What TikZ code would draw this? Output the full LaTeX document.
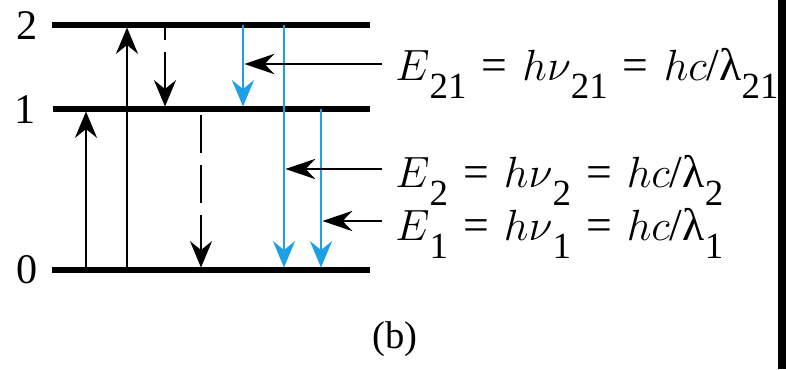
\documentclass[tikz,border=0pt]{standalone}
\usepackage{fontspec}
\setmainfont{Liberation Serif}
\usetikzlibrary{arrows.meta}
\definecolor{emitblue}{RGB}{30,160,230}
\newcommand{\lowsub}[1]{\raisebox{-0.4em}{\fontsize{21}{21}\selectfont #1}}
\newcommand{\eqgap}{\hspace{0.33em}=\hspace{0.33em}}

\begin{document}
\begin{tikzpicture}[x=0.02cm, y=-0.02cm,
    level/.style={line width=2.9pt},
    jump/.style={line width=1.6pt, shorten >=1.4pt, -{Stealth[length=15pt, width=12.5pt, inset=5pt]}},
    emit/.style={jump, draw=emitblue, line width=1.6pt},
    relax/.style={jump, dash pattern=on 21.6pt off 6.8pt},
    pointer/.style={line width=1.5pt, shorten >=0.8pt, -{Stealth[length=17pt, width=11.5pt, inset=5.5pt]}},
    levellabel/.style={font=\fontsize{24}{24}\selectfont, anchor=east, inner sep=0pt},
    relation/.style={font=\fontsize{26}{30}\selectfont, anchor=base west, inner sep=0pt}
]
\useasboundingbox (0,0) rectangle (786,369);
\fill (778,0) rectangle (786,369);

% levels
\coordinate (L2w) at (52,25);  \coordinate (L2e) at (370,25);
\coordinate (L1w) at (53,109); \coordinate (L1e) at (370,109);
\coordinate (L0w) at (52,270); \coordinate (L0e) at (370,270);
\draw[level] (L2w) -- (L2e);
\draw[level] (L1w) -- (L1e);
\draw[level] (L0w) -- (L0e);
\node[levellabel] (n2) at (38,26) {2};
\node[levellabel] (n1) at (36,110) {1};
\node[levellabel] (n0) at (38,270) {0};

% columns
\coordinate (up1) at (86,0);
\coordinate (up2) at (127,0);
\coordinate (dn21) at (165,0);
\coordinate (dn10) at (201,0);
\coordinate (b21) at (243,0);
\coordinate (b2) at (284,0);
\coordinate (b1) at (321,0);

% absorption
\draw[jump] (L0w -| up1) -- (L1w -| up1);
\draw[jump] (L0w -| up2) -- (L2w -| up2);
% non-radiative
\draw[relax, dash phase=13.1pt] (L2w -| dn21) -- (L1w -| dn21);
\draw[relax, dash phase=25pt] (L1w -| dn10) -- (L0w -| dn10);
% emission
\draw[emit] (L2w -| b21) -- (L1w -| b21);
\draw[emit] (L2w -| b2) -- (L0w -| b2);
\draw[emit] (L1w -| b1) -- (L0w -| b1);

% relations
\node[relation] (eq21) at (395,80) {$E$\lowsub{21}\eqgap$h\nu$\lowsub{21}\eqgap$hc$/λ\lowsub{21}};
\node[relation] (eq2) at (395,187) {$E$\lowsub{2}\eqgap$h\nu$\lowsub{2}\eqgap$hc$/λ\lowsub{2}};
\node[relation] (eq1) at (395,240) {$E$\lowsub{1}\eqgap$h\nu$\lowsub{1}\eqgap$hc$/λ\lowsub{1}};
\coordinate (t21) at (382,64);
\coordinate (t2) at (382,169);
\coordinate (t1) at (382,221);
\draw[pointer] (t21) -- (t21 -| b21);
\draw[pointer] (t2) -- (t2 -| b2);
\draw[pointer] (t1) -- (t1 -| b1);

\node[font=\fontsize{22}{22}\selectfont] (cap) at (395,339) {(b)};
\end{tikzpicture}
\end{document}
